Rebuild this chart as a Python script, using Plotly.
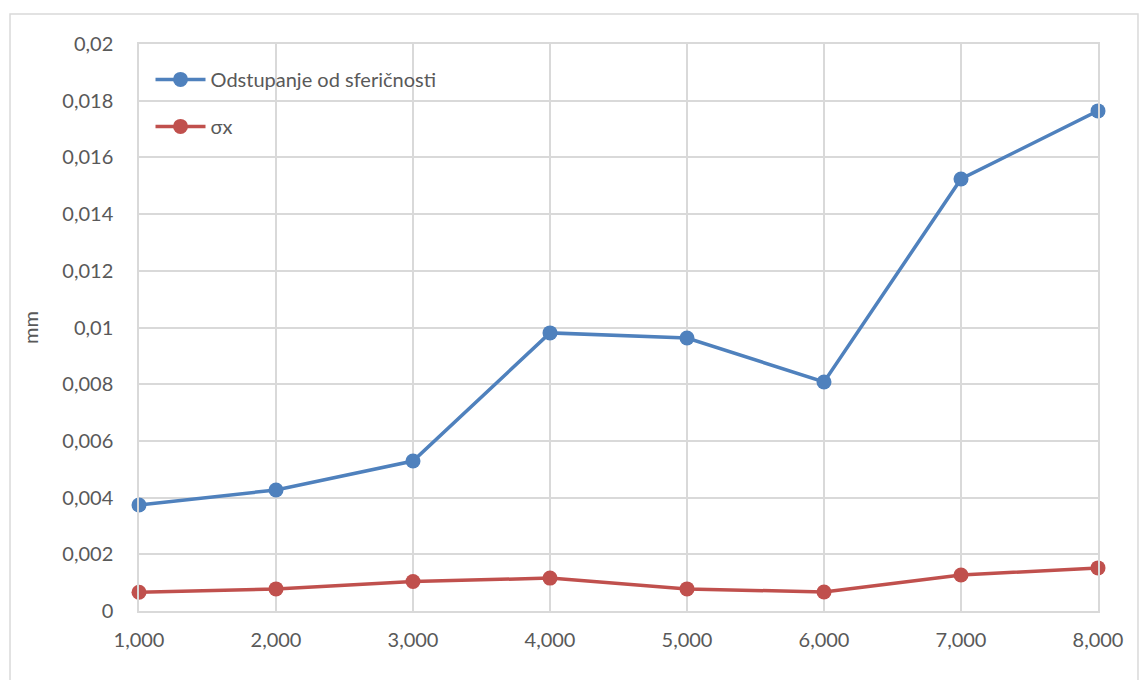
import plotly.graph_objects as go

# x values and the two measured series (mm)
x_vals = [1000, 2000, 3000, 4000, 5000, 6000, 7000, 8000]
odstupanje = [0.00374, 0.00427, 0.00529, 0.00981, 0.00963, 0.00808, 0.01524, 0.01764]
sigma_x = [0.00066, 0.00078, 0.00104, 0.00116, 0.00078, 0.00067, 0.00127, 0.00152]

x_ticks = [1000, 2000, 3000, 4000, 5000, 6000, 7000, 8000]
x_ticktext = ["1,000", "2,000", "3,000", "4,000", "5,000", "6,000", "7,000", "8,000"]
y_ticks = [0, 0.002, 0.004, 0.006, 0.008, 0.01, 0.012, 0.014, 0.016, 0.018, 0.02]
y_ticktext = ["0", "0,002", "0,004", "0,006", "0,008", "0,01", "0,012", "0,014", "0,016", "0,018", "0,02"]

BLUE = "#4F81BD"
RED = "#C0504D"
GRID = "#d9d9d9"
TEXT = "#595959"

fig = go.Figure()
fig.add_trace(go.Scatter(
    x=x_vals, y=odstupanje, name="Odstupanje od sferičnosti", legendgroup="a",
    mode="lines+markers", line=dict(color=BLUE, width=3.5),
    marker=dict(color=BLUE, size=15), cliponaxis=False,
))
fig.add_trace(go.Scatter(
    x=x_vals, y=sigma_x, name="σx", legendgroup="b",
    mode="lines+markers", line=dict(color=RED, width=3.5),
    marker=dict(color=RED, size=15), cliponaxis=False,
))

fig.update_xaxes(
    range=[1000, 8000], tickvals=x_ticks, ticktext=x_ticktext,
    showgrid=True, gridcolor=GRID, gridwidth=1.5, zeroline=False,
    showline=True, linecolor=GRID, linewidth=1.5, mirror=True,
    ticks="", ticklabelstandoff=10,
    tickfont=dict(size=20, color=TEXT),
)
fig.update_yaxes(
    range=[0, 0.02], tickvals=y_ticks, ticktext=y_ticktext,
    showgrid=True, gridcolor=GRID, gridwidth=1.5, zeroline=False,
    showline=True, linecolor=GRID, linewidth=1.5, mirror=True,
    ticks="", ticklabelstandoff=20,
    tickfont=dict(size=20, color=TEXT),
    title=dict(text="mm", font=dict(size=20, color=TEXT), standoff=18),
)

# outer chart border
fig.add_shape(
    type="rect", xref="paper", yref="paper",
    x0=-0.1345, x1=1.0417, y0=-0.125, y1=1.0529,
    line=dict(color=GRID, width=1.5), fillcolor="rgba(0,0,0,0)", layer="below",
)

fig.update_layout(
    width=1148, height=680,
    margin=dict(l=139, r=50, t=44, b=69),
    paper_bgcolor="white", plot_bgcolor="white",
    font=dict(family="Lato, 'Open Sans', sans-serif", color=TEXT),
    legend=dict(
        x=0.012, y=0.972, xanchor="left", yanchor="top",
        bgcolor="rgba(255,255,255,0)", font=dict(size=20, color=TEXT),
        itemwidth=50, tracegroupgap=18,
    ),
    showlegend=True,
)

fig.write_html(
    "out.html",
    config={"displayModeBar": False},
    post_script="document.body.style.margin='0';",
)
